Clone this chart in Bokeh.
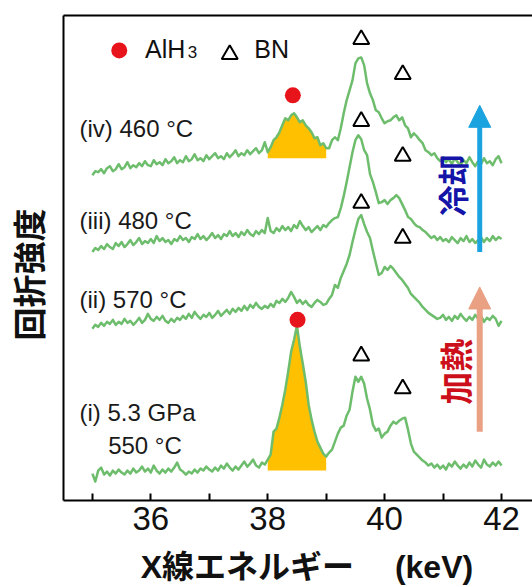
import numpy as np
from math import pi
from bokeh.plotting import figure
from bokeh.models import Range1d, FixedTicker, LinearAxis, Label, Arrow, NormalHead
from bokeh.embed import file_html
from bokeh.resources import INLINE

# X-ray energy grid (keV)
energy = np.round(np.arange(35.0, 42.0001, 0.05), 2)

# Diffraction intensity (a.u., spectra offset vertically)
spec_iv = [
    327, 331, 330, 333, 329, 334, 336, 331, 333, 338,
    333, 335, 340, 334, 337, 335, 339, 336, 341, 337,
    336, 342, 338, 340, 337, 343, 339, 341, 345, 339,
    342, 340, 346, 341, 343, 348, 342, 344, 341, 347,
    343, 346, 349, 344, 346, 343, 349, 345, 348, 352,
    346, 349, 347, 352, 348, 351, 354, 349, 352, 360,
    350, 355, 362, 365, 370, 377, 384, 382, 387, 389,
    385, 380, 382, 377, 374, 370, 364, 365, 357, 359,
    354, 354, 362, 365, 362, 374, 389, 402, 412, 422,
    439, 444, 445, 437, 419, 409, 402, 392, 390, 384,
    379, 381, 382, 385, 387, 382, 385, 377, 374, 365,
    369, 366, 362, 359, 352, 350, 347, 349, 344, 341,
    345, 340, 343, 338, 344, 340, 337, 342, 339, 345,
    340, 336, 341, 338, 344, 339, 341, 337, 343, 346,
    339,
]
spec_iii = [
    250, 254, 252, 256, 253, 258, 255, 253, 259, 256,
    260, 255, 258, 262, 257, 260, 264, 258, 261, 259,
    263, 259, 266, 261, 264, 260, 262, 258, 263, 261,
    266, 262, 264, 260, 265, 263, 268, 263, 266, 262,
    265, 269, 264, 267, 263, 268, 266, 271, 266, 269,
    265, 270, 267, 272, 268, 266, 271, 268, 272, 269,
    284, 271, 269, 274, 271, 276, 272, 275, 271, 277,
    274, 281, 276, 272, 275, 270, 273, 276, 272, 277,
    275, 279, 282, 284, 285, 294, 306, 320, 335, 350,
    362, 367, 363, 352, 347, 328, 320, 310, 299, 300,
    302, 298, 302, 304, 307, 304, 298, 292, 285, 283,
    279, 276, 275, 272, 270, 267, 264, 266, 262, 265,
    261, 263, 260, 265, 262, 259, 264, 261, 266, 260,
    263, 259, 262, 265, 260, 264, 261, 266, 262, 265,
    263,
]
spec_ii = [
    173, 177, 175, 179, 176, 180, 178, 182, 177, 180,
    178, 183, 179, 181, 177, 180, 184, 179, 182, 188,
    183, 181, 185, 182, 186, 181, 179, 183, 180, 184,
    182, 186, 183, 188, 184, 190, 186, 183, 187, 185,
    189, 184, 187, 191, 186, 189, 192, 188, 193, 190,
    194, 191, 196, 192, 197, 194, 199, 195, 193, 196,
    194, 198, 195, 201, 199, 203, 200, 204, 210, 205,
    199, 202, 198, 201, 197, 195, 199, 202, 200, 197,
    198, 203, 207, 217, 214, 224, 231, 238, 247, 260,
    272, 283, 287, 278, 270, 264, 251, 239, 227, 229,
    235, 232, 236, 233, 229, 225, 222, 218, 214, 208,
    205, 202, 199, 195, 192, 189, 187, 185, 183, 184,
    187, 182, 185, 181, 186, 183, 188, 184, 181, 185,
    182, 187, 183, 186, 180, 184, 182, 186, 183, 176,
    181,
]
spec_i = [
    28, 20, 31, 34, 27, 30, 26, 31, 28, 32,
    29, 27, 31, 28, 33, 29, 31, 35, 30, 33,
    29, 36, 31, 28, 32, 29, 33, 30, 34, 39,
    32, 30, 27, 30, 28, 32, 29, 33, 31, 35,
    32, 30, 34, 31, 36, 33, 38, 34, 31, 35,
    32, 36, 40, 35, 38, 42, 36, 34, 39, 37,
    42, 47, 70, 73, 84, 97, 112, 130, 150, 162,
    176, 155, 138, 120, 97, 82, 70, 60, 54, 48,
    45, 49, 52, 60, 68, 74, 76, 86, 92, 110,
    125, 120, 125, 118, 103, 92, 77, 71, 73, 64,
    68, 70, 76, 80, 78, 81, 83, 84, 72, 58,
    50, 47, 44, 41, 39, 36, 38, 34, 37, 33,
    36, 32, 38, 35, 40, 36, 33, 37, 34, 39,
    35, 41, 37, 34, 42, 37, 35, 39, 36, 40,
    36,
]

# AlH3 peak shading: energy window and base intensity
alh3_window = (38.0, 39.0)
alh3_base_iv = 344
alh3_base_i = 31

# Markers: AlH3 (red dots) and BN (triangles)
alh3_x = [38.43, 38.51]
alh3_y = [407, 182]
bn_x = [39.60, 40.31, 39.60, 40.31, 39.60, 40.31, 39.60, 40.31]
bn_y = [463, 428, 381, 346, 299, 264, 146, 113]

# Curve labels
curve_labels = ["(iv) 460 °C", "(iii) 480 °C", "(ii) 570 °C", "(i) 5.3 GPa", "550 °C"]
curve_label_x = [34.78, 34.78, 34.78, 34.78, 35.27]
curve_label_y = [373.5, 282, 202, 89, 56]

xticks = [35, 36, 37, 38, 39, 40, 41, 42]
xtick_labels = {35: "", 36: "36", 37: "", 38: "38", 39: "", 40: "40", 41: "", 42: "42"}

GREEN = "#6dbd6d"
YELLOW = "#ffc000"
RED = "#e8141b"
MIXED_FONT = "'Liberation Sans', 'Noto Sans CJK JP'"

p = figure(width=532, height=587, x_range=Range1d(34.506, 42.53), y_range=Range1d(1, 487),
           output_backend="svg", toolbar_location=None,
           min_border_left=61, min_border_right=0, min_border_top=15, min_border_bottom=86)
p.outline_line_color = None
p.grid.visible = False
p.background_fill_color = "white"

# bottom axis
p.xaxis.ticker = FixedTicker(ticks=xticks)
p.xaxis.major_label_overrides = xtick_labels
p.xaxis.minor_tick_line_color = None
p.xaxis.major_tick_in = 7
p.xaxis.major_tick_out = 0
p.xaxis.major_tick_line_width = 2
p.xaxis.axis_line_width = 2
p.xaxis.major_label_text_font = "Liberation Sans"
p.xaxis.major_label_text_font_size = "33px"
p.xaxis.major_label_text_color = "#111111"
p.xaxis.major_label_standoff = 6
p.xaxis.axis_label = "\u00a0\u00a0X線エネルギー\u3000 (keV)"
p.xaxis.axis_label_text_font = MIXED_FONT
p.xaxis.axis_label_text_font_style = "bold"
p.xaxis.axis_label_text_font_size = "32px"
p.xaxis.axis_label_text_color = "#111111"
p.xaxis.axis_label_standoff = 16

# left axis = left border + title
p.yaxis.ticker = FixedTicker(ticks=[])
p.yaxis.minor_tick_line_color = None
p.yaxis.axis_line_width = 2
p.yaxis.major_label_text_font_size = "0px"
p.yaxis.axis_label = "回折強度　"
p.yaxis.axis_label_text_font = "Noto Sans CJK JP"
p.yaxis.axis_label_text_font_style = "bold"
p.yaxis.axis_label_text_font_size = "33px"
p.yaxis.axis_label_text_color = "#111111"
p.yaxis.axis_label_standoff = 12

# top border
top = LinearAxis(ticker=FixedTicker(ticks=[]), axis_line_width=2,
                 major_label_text_font_size="0px", minor_tick_line_color=None)
p.add_layout(top, "above")

e = np.array(energy)
mask = (e >= alh3_window[0]) & (e <= alh3_window[1])
for spec, base in [(spec_iv, alh3_base_iv), (spec_i, alh3_base_i)]:
    s = np.array(spec)
    p.varea(x=e[mask], y1=np.full(mask.sum(), base), y2=s[mask], fill_color=YELLOW)

for spec in [spec_iv, spec_iii, spec_ii, spec_i]:
    p.line(e, spec, line_color=GREEN, line_width=2.5, line_join="round")

p.scatter(alh3_x, alh3_y, marker="circle", size=16, fill_color=RED, line_color=None)
p.scatter(bn_x, bn_y, marker="triangle", size=16, fill_color=None, line_color="black", line_width=2)

# legend
p.scatter([35.46], [452], marker="circle", size=16, fill_color=RED, line_color=None)
p.scatter([37.35], [448], marker="triangle", size=16, fill_color=None, line_color="black", line_width=2)
p.add_layout(Label(x=35.90, y=453, text="AlH", text_font="Liberation Sans", text_font_size="25px",
                   text_color="#111111", text_baseline="alphabetic"))
p.add_layout(Label(x=36.63, y=450.5, text="3", text_font="Liberation Sans", text_font_size="17px",
                   text_color="#111111", text_baseline="alphabetic"))
p.add_layout(Label(x=37.77, y=453, text="BN", text_font="Liberation Sans", text_font_size="25px",
                   text_color="#111111", text_baseline="alphabetic"))

for t, x, y in zip(curve_labels, curve_label_x, curve_label_y):
    p.add_layout(Label(x=x, y=y, text=t, text_font="Liberation Sans", text_font_size="24px",
                       text_color="#1a1a1a", text_baseline="alphabetic"))

# arrows
arrow_x = 41.627
cool = dict(bottom=250, tip=397, color="#1ba3e0", width=5)
heat = dict(bottom=70, tip=215, color="#e9a083", width=6)
for a in (cool, heat):
    p.segment([arrow_x], [a["bottom"]], [arrow_x], [a["tip"] - 14], line_color=a["color"], line_width=a["width"])
    p.add_layout(Arrow(x_start=arrow_x, y_start=a["tip"] - 22, x_end=arrow_x, y_end=a["tip"],
                       line_alpha=0, end=NormalHead(size=22, fill_color=a["color"], line_color=a["color"], line_width=1)))

p.add_layout(Label(x=41.14, y=317, text="冷却", angle=pi / 2, text_font="Noto Sans CJK JP",
                   text_font_style="bold", text_font_size="31px", text_color="#1414a8",
                   text_align="center", text_baseline="middle"))
p.add_layout(Label(x=41.20, y=130, text="加熱", angle=pi / 2, text_font="Noto Sans CJK JP",
                   text_font_style="bold", text_font_size="33px", text_color="#cc0f1a",
                   text_align="center", text_baseline="middle"))

open("out.html", "w").write(file_html(p, INLINE))
